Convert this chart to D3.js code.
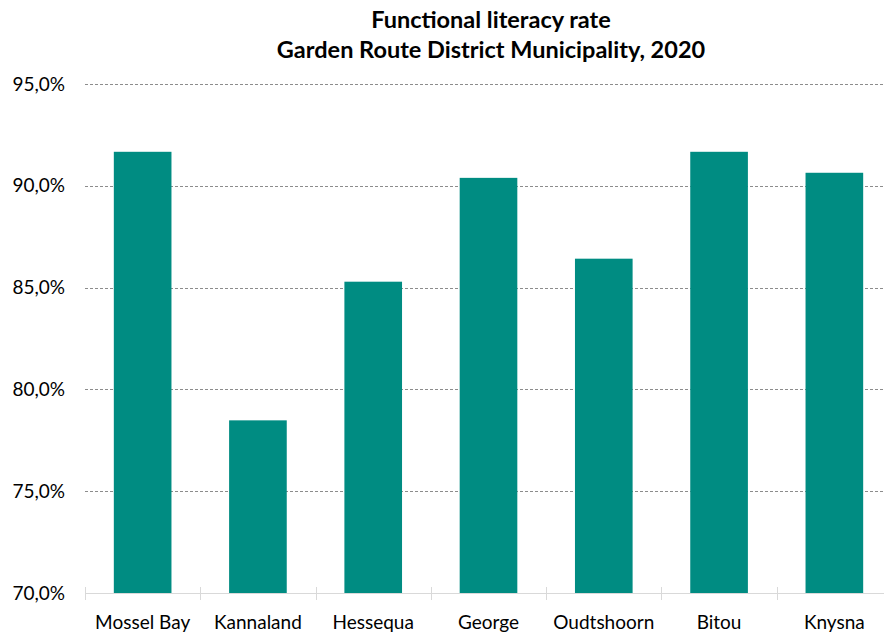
<!DOCTYPE html>
<html>
<head>
<meta charset="utf-8">
<script src="https://cdn.jsdelivr.net/npm/d3@7"></script>
<style>
  body { margin: 0; background: #fff; }
  text { font-family: Lato, "Open Sans", sans-serif; fill: #000; }
</style>
</head>
<body>
<script>
const categories = ['Mossel Bay', 'Kannaland', 'Hessequa', 'George', 'Oudtshoorn', 'Bitou', 'Knysna']
const literacyRate = [91.67, 78.48, 85.29, 90.39, 86.42, 91.67, 90.64]
const yTicks = [70, 75, 80, 85, 90, 95]
const titleLines = ['Functional literacy rate', 'Garden Route District Municipality, 2020']

const SVG_WIDTH = 884
const SVG_HEIGHT = 635
const PLOT = { LEFT: 85, RIGHT: 892, TOP: 84, BOTTOM: 593 }
const BAR_COLOR = '#008c82'

const svg = d3.select('body')
  .append('svg')
  .attr('width', SVG_WIDTH)
  .attr('height', SVG_HEIGHT)

const scaleX = d3.scaleBand()
  .domain(categories)
  .range([PLOT.LEFT, PLOT.RIGHT])
  .paddingInner(0.5)
  .paddingOuter(0.25)

const scaleY = d3.scaleLinear()
  .domain([70, 95])
  .range([PLOT.BOTTOM, PLOT.TOP])

const fmt = v => d3.format('.1f')(v).replace('.', ',') + '%'

// gridlines
svg.append('g')
  .selectAll('line')
  .data(yTicks.filter(t => t > 70))
  .enter()
    .append('line')
    .attr('x1', PLOT.LEFT)
    .attr('x2', SVG_WIDTH)
    .attr('y1', d => Math.round(scaleY(d)) + 0.5)
    .attr('y2', d => Math.round(scaleY(d)) + 0.5)
    .attr('stroke', '#8c8c8c')
    .attr('stroke-width', 1)
    .attr('stroke-dasharray', '3,2')

// y axis labels
const yAxis = d3.axisLeft(scaleY)
  .tickValues(yTicks)
  .tickFormat(fmt)
  .tickSize(0)
  .tickPadding(20)

svg.append('g')
    .attr('transform', `translate(${PLOT.LEFT}, 0)`)
  .call(yAxis)
  .call(g => g.select('.domain').remove())
  .selectAll('text')
    .attr('font-size', '19px')
    .attr('font-family', 'Lato, sans-serif')
    .attr('fill', '#000')

// bars
svg.append('g')
  .selectAll('rect')
  .data(categories)
  .enter()
    .append('rect')
    .attr('x', d => scaleX(d))
    .attr('y', (d, i) => scaleY(literacyRate[i]))
    .attr('width', scaleX.bandwidth())
    .attr('height', (d, i) => PLOT.BOTTOM - scaleY(literacyRate[i]))
    .attr('fill', BAR_COLOR)

// x axis: baseline with boundary ticks
const step = scaleX.step()
const boundaries = d3.range(categories.length + 1).map(i => PLOT.LEFT + i * step)
const xg = svg.append('g')
xg.append('line')
  .attr('x1', PLOT.LEFT)
  .attr('x2', SVG_WIDTH)
  .attr('y1', PLOT.BOTTOM + 0.5)
  .attr('y2', PLOT.BOTTOM + 0.5)
  .attr('stroke', '#d9d9d9')
xg.selectAll('.tick')
  .data(boundaries)
  .enter()
    .append('line')
    .attr('x1', d => Math.round(d) + 0.5)
    .attr('x2', d => Math.round(d) + 0.5)
    .attr('y1', PLOT.BOTTOM - 6)
    .attr('y2', PLOT.BOTTOM + 7)
    .attr('stroke', '#d9d9d9')

xg.selectAll('.label')
  .data(categories)
  .enter()
    .append('text')
    .attr('x', d => scaleX(d) + scaleX.bandwidth() / 2)
    .attr('y', 629)
    .attr('text-anchor', 'middle')
    .attr('font-size', '19px')
    .text(d => d)

// title
svg.append('g')
  .selectAll('text')
  .data(titleLines)
  .enter()
    .append('text')
    .attr('x', 491)
    .attr('y', (d, i) => 28 + i * 30)
    .attr('text-anchor', 'middle')
    .attr('font-size', '23.5px')
    .attr('font-weight', 'bold')
    .text(d => d)
</script>
</body>
</html>
